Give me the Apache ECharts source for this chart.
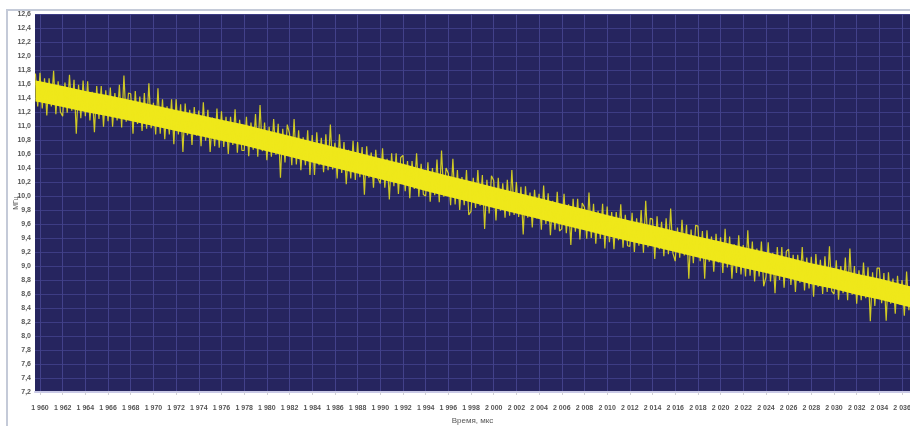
<!DOCTYPE html>
<html>
<head>
<meta charset="utf-8">
<script src="https://cdn.jsdelivr.net/npm/echarts@6/dist/echarts.min.js"></script>
<style>html,body{margin:0;padding:0;background:#fff}#c{width:910px;height:426px}</style>
</head>
<body>
<div id="c"></div>
<script>
// Sample times start / step (µs)
const t0 = 1959.6;
const dt = 0.2;
// Frequency samples (MHz)
const freq = [
11.75, 11.28,
11.76, 11.25, 11.68, 11.15, 11.68, 11.28, 11.79, 11.17, 11.64, 11.20,
11.14, 11.62, 11.19, 11.73, 11.22, 11.66, 10.89, 11.59, 11.11, 11.65,
11.14, 11.64, 11.08, 11.49, 10.91, 11.57, 11.10, 11.57, 10.99, 11.51,
11.07, 11.55, 10.99, 11.47, 11.08, 11.59, 10.98, 11.72, 11.06, 11.47,
11.46, 10.89, 11.50, 11.03, 11.42, 10.93, 11.47, 10.96, 11.61, 10.97,
11.33, 10.88, 11.54, 10.89, 11.38, 10.81, 11.28, 10.88, 11.38, 10.74,
11.38, 10.88, 11.31, 10.63, 11.32, 10.87, 11.23, 10.73, 11.27, 10.86,
11.22, 10.71, 11.34, 10.79, 11.23, 10.63, 11.12, 10.71, 11.25, 10.69,
11.21, 10.70, 11.13, 10.60, 11.13, 10.73, 11.24, 10.62, 11.09, 10.65,
10.65, 11.13, 10.57, 11.05, 10.66, 11.17, 10.56, 11.30, 10.64, 11.05,
10.51, 10.99, 10.56, 11.10, 10.59, 11.03, 10.26, 10.96, 10.48, 11.02,
10.89, 10.44, 11.10, 10.45, 10.94, 10.37, 10.84, 10.44, 10.94, 10.30,
10.87, 10.30, 10.91, 10.44, 10.83, 10.34, 10.88, 10.37, 11.02, 10.38,
10.76, 10.25, 10.88, 10.33, 10.77, 10.17, 10.66, 10.25, 10.79, 10.23,
10.77, 10.27, 10.70, 10.02, 10.71, 10.26, 10.62, 10.12, 10.66, 10.25,
10.18, 10.68, 10.12, 10.53, 9.95, 10.61, 10.14, 10.61, 10.03, 10.55,
10.58, 10.07, 10.50, 9.97, 10.50, 10.10, 10.61, 9.99, 10.46, 10.02,
10.00, 10.48, 9.92, 10.40, 10.01, 10.52, 9.91, 10.65, 9.99, 10.40,
10.32, 9.87, 10.53, 9.88, 10.37, 9.80, 10.27, 9.87, 10.37, 9.73,
9.78, 10.26, 9.83, 10.37, 9.86, 10.30, 9.53, 10.23, 9.75, 10.29,
10.22, 9.65, 10.26, 9.79, 10.18, 9.69, 10.23, 9.72, 10.37, 9.73,
10.20, 9.70, 10.13, 9.45, 10.14, 9.69, 10.05, 9.55, 10.09, 9.68,
10.03, 9.52, 10.15, 9.60, 10.04, 9.44, 9.93, 9.52, 10.06, 9.50,
9.53, 10.03, 9.47, 9.88, 9.30, 9.96, 9.49, 9.96, 9.38, 9.90,
9.84, 9.39, 10.05, 9.40, 9.89, 9.32, 9.79, 9.39, 9.89, 9.25,
9.85, 9.34, 9.77, 9.24, 9.77, 9.37, 9.88, 9.26, 9.73, 9.29,
9.28, 9.76, 9.20, 9.68, 9.29, 9.80, 9.19, 9.93, 9.27, 9.68,
9.67, 9.10, 9.71, 9.24, 9.63, 9.14, 9.68, 9.17, 9.82, 9.18,
9.07, 9.55, 9.12, 9.66, 9.15, 9.59, 8.82, 9.52, 9.04, 9.58,
9.57, 9.07, 9.50, 8.82, 9.51, 9.06, 9.42, 8.92, 9.46, 9.05,
9.41, 8.90, 9.53, 8.98, 9.42, 8.82, 9.31, 8.90, 9.44, 8.88,
9.30, 8.85, 9.51, 8.86, 9.35, 8.78, 9.25, 8.85, 9.35, 8.71,
8.84, 9.34, 8.78, 9.19, 8.61, 9.27, 8.80, 9.27, 8.69, 9.21,
9.24, 8.73, 9.16, 8.63, 9.16, 8.76, 9.27, 8.65, 9.12, 8.68,
9.13, 8.56, 9.17, 8.70, 9.09, 8.60, 9.14, 8.63, 9.28, 8.64,
8.60, 9.08, 8.52, 9.00, 8.61, 9.12, 8.51, 9.25, 8.59, 9.00,
8.46, 8.94, 8.51, 9.05, 8.54, 8.98, 8.21, 8.91, 8.43, 8.97,
8.97, 8.47, 8.90, 8.22, 8.91, 8.46, 8.82, 8.32, 8.86, 8.45,
8.80, 8.29, 8.92, 8.37, 8.81
];
// Dense core of the trace (upper / lower edge), read every 2 µs
const bandTime = [1959.6,1960,1962,1964,1966,1968,1970,1972,1974,1976,1978,1980,1982,1984,1986,1988,1990,1992,1994,1996,1998,2000,2002,2004,2006,2008,2010,2012,2014,2016,2018,2020,2022,2024,2026,2028,2030,2032,2034,2036,2036.7];
const bandHigh = [11.65,11.64,11.57,11.50,11.44,11.37,11.30,11.23,11.16,11.09,11.02,10.94,10.86,10.78,10.70,10.62,10.54,10.46,10.37,10.29,10.21,10.13,10.05,9.97,9.89,9.81,9.73,9.65,9.58,9.50,9.42,9.35,9.27,9.20,9.12,9.04,8.97,8.89,8.82,8.74,8.71];
const bandLow = [11.35,11.34,11.27,11.20,11.14,11.07,11.00,10.93,10.86,10.79,10.72,10.64,10.56,10.48,10.40,10.32,10.24,10.16,10.07,9.99,9.91,9.83,9.75,9.67,9.59,9.51,9.43,9.35,9.28,9.20,9.12,9.05,8.97,8.90,8.82,8.74,8.67,8.59,8.52,8.44,8.41];
// Tick labels
const xTicks = [1960,1962,1964,1966,1968,1970,1972,1974,1976,1978,1980,1982,1984,1986,1988,1990,1992,1994,1996,1998,2000,2002,2004,2006,2008,2010,2012,2014,2016,2018,2020,2022,2024,2026,2028,2030,2032,2034,2036];
const xTitle = 'Время, мкс';
const yTitle = 'МГц';

const lineData = freq.map((v, i) => [+(t0 + i * dt).toFixed(1), v]);

const chart = echarts.init(document.getElementById('c'), null, {renderer: 'canvas'});
const font = "'Liberation Sans Narrow','Liberation Sans',Arial,sans-serif";
const yellow = '#efe81a';
chart.setOption({
  animation: false,
  backgroundColor: '#ffffff',
  graphic: [{
    type: 'rect', silent: true, z: 100,
    shape: {x: 7, y: 10, width: 920, height: 430},
    style: {fill: null, stroke: '#c4cad8', lineWidth: 2}
  }],
  grid: {
    left: 35, right: 0, top: 14, bottom: 34,
    outerBoundsMode: 'none',
    containLabel: false,
    show: true, backgroundColor: '#26255f', borderWidth: 0
  },
  xAxis: {
    type: 'value', min: 1959.56, max: 2036.7,
    name: xTitle, nameLocation: 'middle', nameGap: 25,
    nameTextStyle: {fontFamily: font, fontSize: 8, color: '#555'},
    axisLine: {show: true, lineStyle: {color: '#c9c9e6', width: 2}},
    axisTick: {show: true, length: 3, customValues: xTicks, lineStyle: {color: '#d0d0d8'}},
    axisLabel: {
      customValues: xTicks, margin: 13, fontFamily: font, fontSize: 7, color: '#555', fontWeight: 'bold',
      hideOverlap: false,
      formatter: v => { const s = String(Math.round(v)); return s.slice(0, 1) + ' ' + s.slice(1); }
    },
    splitLine: {show: true, lineStyle: {color: '#42418a', width: 1}}
  },
  yAxis: {
    type: 'value', min: 7.2, max: 12.6, interval: 0.2,
    name: yTitle, nameLocation: 'middle', nameGap: 15, nameRotate: 90, nameMoveOverlap: false,
    nameTextStyle: {fontFamily: font, fontSize: 7, color: '#555'},
    axisLine: {show: false},
    axisTick: {show: false},
    axisLabel: {
      margin: 4, fontFamily: font, fontSize: 7, color: '#555', fontWeight: 'bold',
      formatter: v => v.toFixed(1).replace('.', ',')
    },
    splitLine: {show: true, lineStyle: {color: '#3d3c84', width: 1}}
  },
  series: [{
    type: 'custom',
    z: 2,
    silent: true,
    clip: true,
    data: [[bandTime[0], bandLow[0]]],
    renderItem: (params, api) => {
      const pts = [];
      for (let i = 0; i < bandTime.length; i++) pts.push(api.coord([bandTime[i], bandHigh[i]]));
      for (let i = bandTime.length - 1; i >= 0; i--) pts.push(api.coord([bandTime[i], bandLow[i]]));
      return {type: 'polygon', shape: {points: pts}, style: {fill: yellow}};
    }
  }, {
    type: 'line',
    z: 3,
    data: lineData,
    showSymbol: false,
    sampling: null,
    clip: true,
    lineStyle: {color: yellow, width: 1.2, opacity: 0.85}
  }]
});
</script>
</body>
</html>
